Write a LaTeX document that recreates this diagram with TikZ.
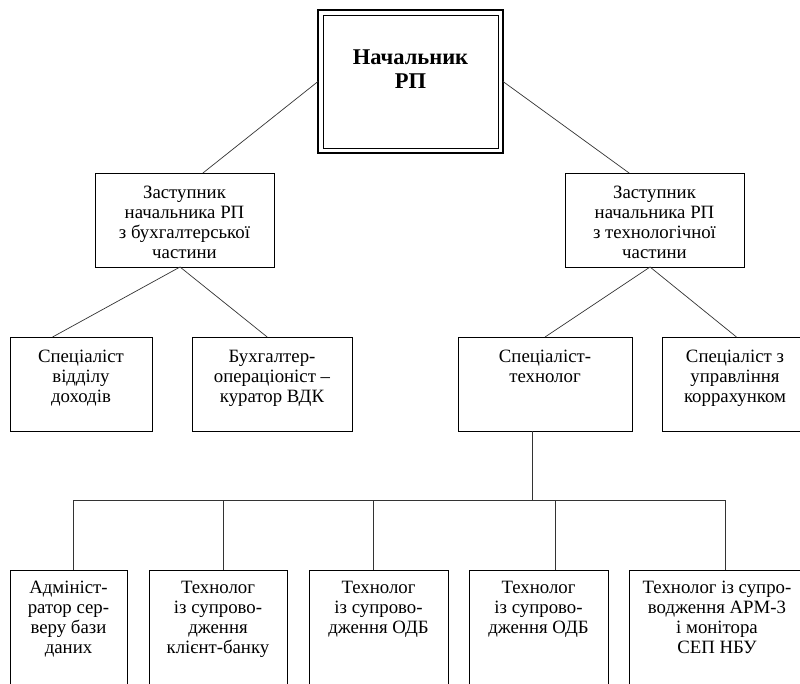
\documentclass[tikz,border=0pt]{standalone}
\usepackage{fontspec}
\setmainfont{Liberation Serif}
\usetikzlibrary{calc}
\begin{document}
\begin{tikzpicture}[x=1pt,y=-1pt,
  box/.style={draw, line width=0.8pt, inner sep=0pt, outer sep=0pt},
  txt/.style={font=\fontsize{18.8}{20}\selectfont, align=center, anchor=north, inner sep=0pt},
  link/.style={line width=0.7pt, black!80}]
\clip (0,0) rectangle (800,684);
\fill[white] (0,0) rectangle (800,684);

% head of the unit
\node[draw, line width=2.6pt, inner sep=0pt, outer sep=0pt,
      minimum width=185pt, minimum height=143pt] (head) at (410.5,81.5) {};
\draw[line width=0.9pt] ($(head.north west)+(5,5)$) rectangle ($(head.south east)+(-5,-5)$);
\node[txt, font=\fontsize{22.5}{24}\selectfont\bfseries] (headt) at (410.5,48) {\strut Начальник\\РП};

% deputies
\node[box, minimum width=179pt, minimum height=94pt] (dl) at (184.5,220) {};
\node[txt] (dlt) at ($(dl.north)+(0,11)$) {\strut Заступник\\начальника РП\\з бухгалтерської\\частини};
\node[box, minimum width=179pt, minimum height=94pt] (dr) at (654.5,220) {};
\node[txt] (drt) at ($(dr.north)+(0,11)$) {\strut Заступник\\начальника РП\\з технологічної\\частини};

% specialists
\node[box, minimum width=142pt, minimum height=94pt] (s1) at (81,384) {};
\node[txt] (s1t) at ($(s1.north)+(0,11)$) {\strut Спеціаліст\\відділу\\доходів};
\node[box, minimum width=160pt, minimum height=94pt] (s2) at (272,384) {};
\node[txt] (s2t) at ($(s2.north)+(0,11)$) {\strut Бухгалтер-\\операціоніст --\\куратор ВДК};
\node[box, minimum width=174pt, minimum height=94pt] (s3) at (545,384) {};
\node[txt] (s3t) at ($(s3.north)+(0,11)$) {\strut Спеціаліст-\\технолог};
\node[box, minimum width=146pt, minimum height=94pt] (s4) at (735,384) {};
\node[txt] (s4t) at ($(s4.north)+(0,11)$) {\strut Спеціаліст з\\управління\\коррахунком};

% technologists
\node[box, minimum width=117pt, minimum height=140pt] (b1) at (68.5,640) {};
\node[txt] (b1t) at ($(b1.north)+(0,9.5)$) {\strut Адмініст-\\ратор сер-\\веру бази\\даних};
\node[box, minimum width=138pt, minimum height=140pt] (b2) at (218,640) {};
\node[txt] (b2t) at ($(b2.north)+(0,9.5)$) {\strut Технолог\\із супрово-\\дження\\клієнт-банку};
\node[box, minimum width=139pt, minimum height=140pt] (b3) at (378.5,640) {};
\node[txt] (b3t) at ($(b3.north)+(0,9.5)$) {\strut Технолог\\із супрово-\\дження ОДБ};
\node[box, minimum width=139pt, minimum height=140pt] (b4) at (538.5,640) {};
\node[txt] (b4t) at ($(b4.north)+(0,9.5)$) {\strut Технолог\\із супрово-\\дження ОДБ};
\node[box, minimum width=176pt, minimum height=140pt] (b5) at (717,640) {};
\node[txt] (b5t) at ($(b5.north)+(0,9.5)$) {\strut Технолог із супро-\\водження АРМ-3\\і монітора\\СЕП НБУ};

% connectors
\draw[link] (head.west) -- ($(dl.north west)!0.603!(dl.north east)$);
\draw[link] (head.east) -- ($(dr.north west)!0.358!(dr.north east)$);
\draw[link] ($(dl.south west)!0.475!(dl.south east)$) -- ($(s1.north west)!0.30!(s1.north east)$);
\draw[link] ($(dl.south west)!0.475!(dl.south east)$) -- ($(s2.north west)!0.47!(s2.north east)$);
\draw[link] ($(dr.south west)!0.475!(dr.south east)$) -- (s3.north);
\draw[link] ($(dr.south west)!0.475!(dr.south east)$) -- ($(s4.north west)!0.51!(s4.north east)$);

\coordinate (bus) at (0,500);
\coordinate (s3o) at ($(s3.south west)!0.425!(s3.south east)$);
\coordinate (b1i) at ($(b1.north west)!0.54!(b1.north east)$);
\coordinate (b2i) at ($(b2.north west)!0.536!(b2.north east)$);
\coordinate (b3i) at ($(b3.north west)!0.46!(b3.north east)$);
\coordinate (b4i) at ($(b4.north west)!0.62!(b4.north east)$);
\coordinate (b5i) at ($(b5.north west)!0.55!(b5.north east)$);
\draw[link] (s3o) -- (s3o |- bus);
\draw[link] (b1i) -- (b1i |- bus) -- (b5i |- bus) -- (b5i);
\draw[link] (b2i) -- (b2i |- bus);
\draw[link] (b3i) -- (b3i |- bus);
\draw[link] (b4i) -- (b4i |- bus);
\end{tikzpicture}
\end{document}
